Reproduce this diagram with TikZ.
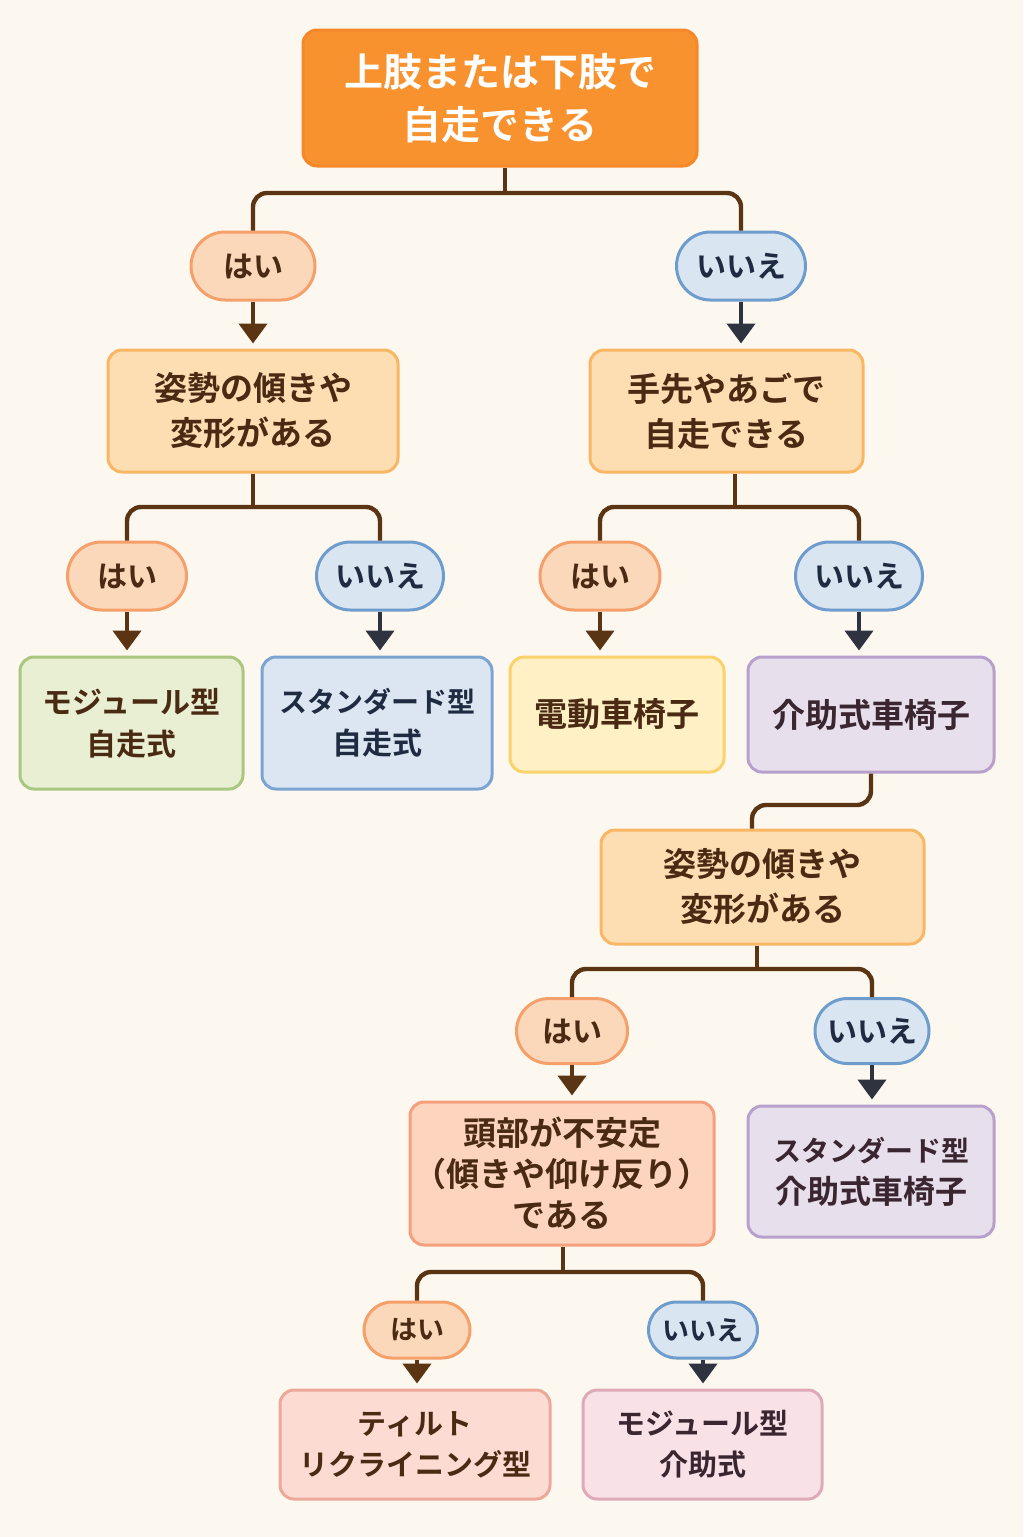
\documentclass[tikz,border=0pt]{standalone}
\usepackage{fontspec}
\setmainfont{Noto Sans CJK JP}[BoldFont={Noto Sans CJK JP Bold}]
\usepackage{xcolor}
\usepackage{tikz}
\usetikzlibrary{arrows.meta}
\usetikzlibrary{shapes.misc}

\definecolor{bgcream}{HTML}{FDF8EF}
\definecolor{topfill}{HTML}{F8922F}
\definecolor{topline}{HTML}{F5882A}
\definecolor{qfill}{HTML}{FDDDB2}
\definecolor{qline}{HTML}{F9B765}
\definecolor{headfill}{HTML}{FDD4BE}
\definecolor{headline}{HTML}{F4A07D}
\definecolor{yesfill}{HTML}{FCD8BB}
\definecolor{yesline}{HTML}{F5A06A}
\definecolor{nofill}{HTML}{D9E6F2}
\definecolor{noline}{HTML}{6E9CCC}
\definecolor{greenfill}{HTML}{E8EFD3}
\definecolor{greenline}{HTML}{A9C77F}
\definecolor{bluefill}{HTML}{DBE6F2}
\definecolor{blueline}{HTML}{7CA4D2}
\definecolor{yellowfill}{HTML}{FFF0C6}
\definecolor{yellowline}{HTML}{F9D26C}
\definecolor{lavfill}{HTML}{E8DFEC}
\definecolor{lavline}{HTML}{B8A0CC}
\definecolor{tiltfill}{HTML}{FCDCD2}
\definecolor{tiltline}{HTML}{ECA99A}
\definecolor{pinkfill}{HTML}{F9E2E7}
\definecolor{pinkline}{HTML}{E0A9B9}
\definecolor{linkbrown}{HTML}{5B3414}
\definecolor{arrowgray}{HTML}{2F3340}
\definecolor{txtbrown}{HTML}{4A2A12}
\definecolor{txtnavy}{HTML}{1E2B40}
\definecolor{txtplum}{HTML}{3A2630}

\newcommand{\kata}[1]{{\fontsize{14}{21}\selectfont #1}}

\tikzset{
    box/.style={rectangle, rounded corners=7pt, line width=1.5pt, align=center,
        inner sep=0pt, text=txtbrown,
        font=\bfseries\fontsize{16.5}{22.5}\selectfont},
    leafbox/.style={box, font=\bfseries\fontsize{15}{21}\selectfont},
    pill/.style={rounded rectangle, line width=1.5pt, inner sep=0pt,
        font=\bfseries\fontsize{15}{18}\selectfont},
    yes/.style={pill, draw=yesline, fill=yesfill, text=txtbrown},
    no/.style={pill, draw=noline, fill=nofill, text=txtnavy},
    link/.style={draw=linkbrown, line width=2.2pt, rounded corners=7pt},
    yesarrow/.style={draw=linkbrown, line width=2.2pt, shorten >=2.5pt,
        -{Triangle[width=14pt,length=10pt]}},
    noarrow/.style={yesarrow, draw=arrowgray, fill=arrowgray}
}

\begin{document}
\begin{tikzpicture}[x=0.5pt, y=-0.5pt]
    \useasboundingbox[fill=bgcream] (0,0) rectangle (1023,1537);

    % questions
    \node[box, fill=topfill, draw=topline, text=white,
        minimum width=197pt, minimum height=68pt,
        font=\bfseries\fontsize{19.5}{26.5}\selectfont]
        (top) at (500,98) {上肢または下肢で\\自走できる};
    \node[box, fill=qfill, draw=qline, minimum width=145pt, minimum height=61pt]
        (lean1) at (253,411) {姿勢の傾きや\\変形がある};
    \node[box, fill=qfill, draw=qline, minimum width=136.5pt, minimum height=61pt]
        (hand) at (726.5,411) {手先やあごで\\自走できる};
    \node[box, fill=qfill, draw=qline, minimum width=161.5pt, minimum height=57pt]
        (lean2) at (762.5,887) {姿勢の傾きや\\変形がある};
    \node[box, fill=headfill, draw=headline, minimum width=152pt, minimum height=71.5pt,
        font=\bfseries\fontsize{16.5}{20.5}\selectfont]
        (head) at (562,1173.5) {頭部が不安定\\（傾きや仰け反り）\\である};

    % answers
    \node[yes, minimum width=62pt, minimum height=34pt] (yes1) at (253,266) {はい};
    \node[no, minimum width=64.5pt, minimum height=34pt] (no1) at (741,266) {いいえ};
    \node[yes, minimum width=59.5pt, minimum height=34pt] (yes2) at (127,576) {はい};
    \node[no, minimum width=63.5pt, minimum height=34pt] (no2) at (380,576) {いいえ};
    \node[yes, minimum width=60pt, minimum height=34pt] (yes3) at (600,576) {はい};
    \node[no, minimum width=63.5pt, minimum height=34pt] (no3) at (859,576) {いいえ};
    \node[yes, minimum width=55.5pt, minimum height=32.5pt] (yes4) at (572,1031) {はい};
    \node[no, minimum width=57pt, minimum height=32.5pt] (no4) at (872,1031) {いいえ};
    \node[yes, minimum width=53pt, minimum height=28pt,
        font=\bfseries\fontsize{13.5}{16}\selectfont] (yes5) at (417,1330) {はい};
    \node[no, minimum width=54.5pt, minimum height=28pt,
        font=\bfseries\fontsize{13.5}{16}\selectfont] (no5) at (703,1330) {いいえ};

    % results
    \node[leafbox, fill=greenfill, draw=greenline, minimum width=111.5pt, minimum height=66pt]
        (modself) at (131.5,723) {モジュール型\\自走式};
    \node[leafbox, fill=bluefill, draw=blueline, text=txtnavy,
        minimum width=115pt, minimum height=66pt]
        (stdself) at (377,723) {\kata{スタンダード型}\\自走式};
    \node[box, fill=yellowfill, draw=yellowline, minimum width=107pt, minimum height=57.5pt]
        (elec) at (617,714.5) {電動車椅子};
    \node[box, fill=lavfill, draw=lavline, text=txtplum,
        minimum width=123pt, minimum height=57.5pt]
        (assist) at (871,714.5) {介助式車椅子};
    \node[box, fill=lavfill, draw=lavline, text=txtplum,
        minimum width=123pt, minimum height=65.5pt,
        font=\bfseries\fontsize{16}{21}\selectfont]
        (stdassist) at (871,1171.5) {\kata{スタンダード型}\\介助式車椅子};
    \node[leafbox, fill=tiltfill, draw=tiltline, minimum width=135pt, minimum height=54.5pt,
        font=\bfseries\fontsize{14.5}{20.5}\selectfont]
        (tilt) at (415,1444.5) {ティルト\\リクライニング型};
    \node[leafbox, fill=pinkfill, draw=pinkline, text=txtplum,
        minimum width=119.5pt, minimum height=54.5pt,
        font=\bfseries\fontsize{14.5}{20.5}\selectfont]
        (modassist) at (702.5,1444.5) {モジュール型\\介助式};

    % branch points
    \coordinate (j0) at (505,193);
    \coordinate (j1) at (253,507);
    \coordinate (j2) at (735,507);
    \coordinate (j3) at (757,969);
    \coordinate (j4) at (563,1272);
    \coordinate (j5) at (752,805);

    \draw[link] (top.south -| j0) -- (j0);
    \draw[link] (yes1.north) |- (j0) -| (no1.north);
    \draw[link] (lean1.south -| j1) -- (j1);
    \draw[link] (yes2.north) |- (j1) -| (no2.north);
    \draw[link] (hand.south -| j2) -- (j2);
    \draw[link] (yes3.north) |- (j2) -| (no3.north);
    \draw[link] (assist.south) |- (j5) -- (j5 |- lean2.north);
    \draw[link] (lean2.south -| j3) -- (j3);
    \draw[link] (yes4.north) |- (j3) -| (no4.north);
    \draw[link] (head.south -| j4) -- (j4);
    \draw[link] (yes5.north) |- (j4) -| (no5.north);

    % arrows
    \draw[yesarrow] (yes1.south) -- (yes1.south |- lean1.north);
    \draw[noarrow] (no1.south) -- (no1.south |- hand.north);
    \draw[yesarrow] (yes2.south) -- (yes2.south |- modself.north);
    \draw[noarrow] (no2.south) -- (no2.south |- stdself.north);
    \draw[yesarrow] (yes3.south) -- (yes3.south |- elec.north);
    \draw[noarrow] (no3.south) -- (no3.south |- assist.north);
    \draw[yesarrow] (yes4.south) -- (yes4.south |- head.north);
    \draw[noarrow] (no4.south) -- (no4.south |- stdassist.north);
    \draw[yesarrow] (yes5.south) -- (yes5.south |- tilt.north);
    \draw[noarrow] (no5.south) -- (no5.south |- modassist.north);
\end{tikzpicture}
\end{document}
